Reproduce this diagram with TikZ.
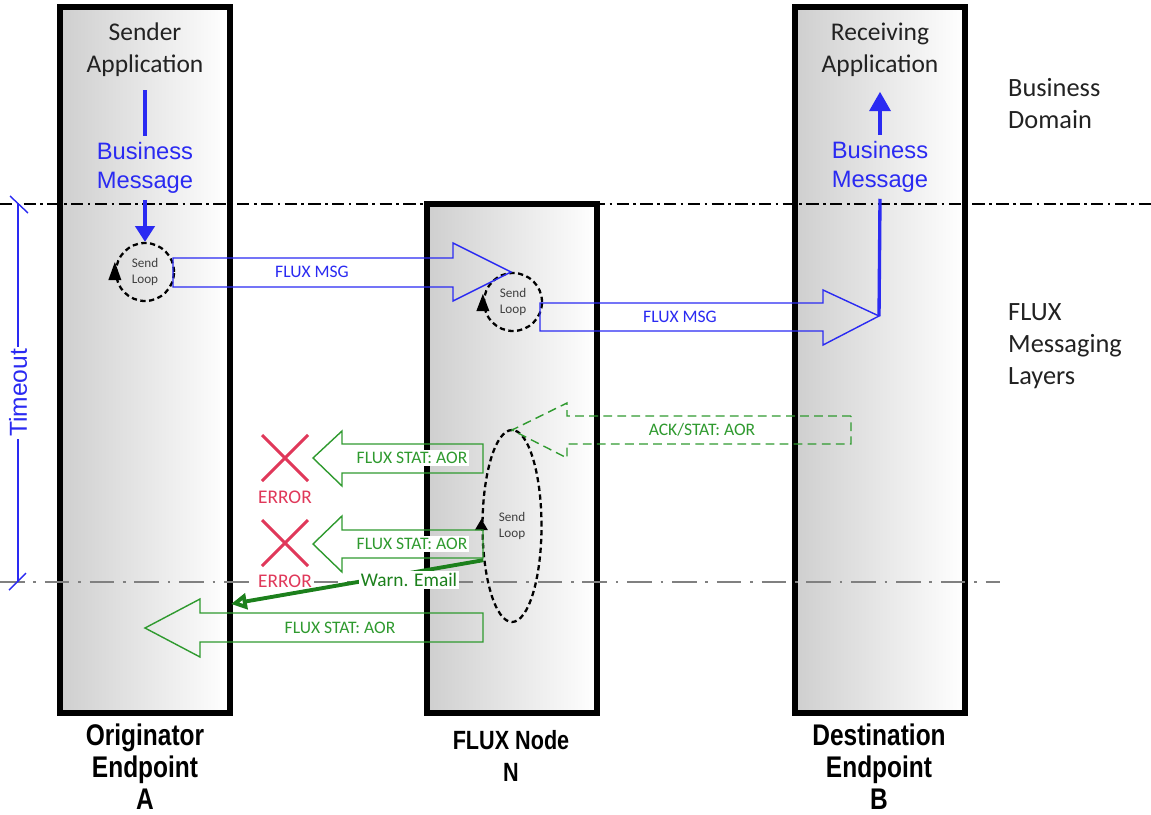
\documentclass[tikz,border=0pt]{standalone}
\usepackage{fontspec}
\setmainfont{Carlito}
\newfontfamily\arialfont{Liberation Sans}
\newfontfamily\narrowfont[FakeStretch=0.82]{Liberation Sans}
\usepackage{tikz}
\usetikzlibrary{arrows.meta,shapes.geometric}
\definecolor{azul}{HTML}{2A2AF2}
\definecolor{verde}{HTML}{2F9A2F}
\definecolor{verdeosc}{HTML}{1C801C}
\definecolor{rojo}{HTML}{E0385A}
\definecolor{tinta}{HTML}{222222}

\begin{document}
\begin{tikzpicture}[
  x=0.02cm, y=-0.02cm,
  columna/.style={draw=black, line width=3.4pt, left color=black!19, right color=white, minimum width=3.4cm, inner sep=0pt},
  bucle/.style={draw=black, line width=1.3pt, dash pattern=on 3pt off 2pt, align=center, font=\fontsize{7.5}{9}\selectfont, text=black!75, inner sep=0pt},
  msg/.style={draw=azul, line width=0.8pt},
  stat/.style={draw=verde, line width=0.8pt},
  etiq/.style={font=\fontsize{10}{12}\selectfont, fill=white, inner sep=1pt},
  titulo/.style={font=\fontsize{14.5}{18.2}\selectfont, text=tinta, align=center},
  negocio/.style={font=\arialfont\fontsize{13.5}{16.5}\selectfont, text=azul, align=center},
  capa/.style={font=\fontsize{15}{18.2}\selectfont, text=tinta, align=left, anchor=west},
  inferior/.style={font=\narrowfont\bfseries\fontsize{17}{18.2}\selectfont, align=center},
  grueso/.style={azul, line width=1.9pt},
  cruz/.style={rojo, line width=1.7pt},
  error/.style={font=\fontsize{11}{13}\selectfont, text=rojo, fill=white, inner sep=1pt}
]
  \useasboundingbox (0,0) rectangle (1151,814);

  % columnas
  \node[columna, minimum height=14.12cm] (colA) at (145,360) {};
  \node[columna, minimum height=10.18cm] (colN) at (512,458.5) {};
  \node[columna, minimum height=14.12cm] (colB) at (880,360) {};

  % limites de capa
  \draw[line width=1.1pt, dash pattern=on 7pt off 2.5pt on 1.5pt off 2.5pt] (0,204) -- (1151,204);
  \draw[black!50, line width=0.8pt, dash pattern=on 14pt off 5pt on 1.5pt off 5pt] (0,582) -- (1000,582);

  % timeout
  \draw[azul, line width=0.8pt] (18,204) -- node[rotate=90, fill=white, inner sep=1pt, text=azul, font=\arialfont\fontsize{14}{16}\selectfont] (timeout) {Timeout} (18,582);
  \draw[azul, line width=0.8pt] (10,196) -- (28,213);
  \draw[azul, line width=0.8pt] (9,590) -- (26,573);

  % dominio de negocio
  \node[titulo] (emisor) at (145,50) {Sender\\Application};
  \node[negocio] (negA) at (145,168) {Business\\Message};
  \node[titulo] (receptor) at (880,50) {Receiving\\Application};
  \node[negocio] (negB) at (880,167) {Business\\Message};
  \node[capa] (dominio) at (1002,104) {Business\\Domain};
  \node[capa] (capas) at (1002,346) {FLUX\\Messaging\\Layers};

  % bucles de envio
  \node[bucle, circle, minimum size=1.16cm] (loopA) at (145,272) {Send\\Loop};
  \node[bucle, circle, minimum size=1.16cm] (loopN) at (513,302) {Send\\Loop};
  \node[bucle, ellipse, minimum width=1.18cm, minimum height=3.84cm] (loopE) at (512,526) {Send\\Loop};
  \fill (loopA.west) ++(0,-10) -- ++(6.5,18) -- ++(-13,0) -- cycle;
  \fill (loopN.west) ++(0,-8) -- ++(6.5,17) -- ++(-13,0) -- cycle;
  \fill (loopE.west) ++(0,-7) -- ++(6.5,11) -- ++(-13,0) -- cycle;

  \draw[grueso, shorten <=4pt] (emisor.south) -- (negA.north);
  \draw[grueso, -{Triangle[length=9pt, width=11pt]}] (negA.south) -- (loopA.north);
  \draw[grueso, -{Triangle[length=11pt, width=12pt]}, shorten >=5pt] (negB.north) -- (receptor.south);

  % FLUX MSG
  \draw[msg] (173,258) -- (453,258) -- (453,243) -- (511,272) -- (453,301) -- (453,287) -- (173,287) -- cycle;
  \node[etiq, text=azul] (msg1) at (312,272) {FLUX MSG};
  \draw[msg] (540,303) -- (823,303) -- (823,290) -- (879,316) -- (823,345) -- (823,331) -- (540,331) -- cycle;
  \node[etiq, text=azul] (msg2) at (680,317) {FLUX MSG};
  \coordinate (tipB) at (879,316);
  \draw[grueso] (tipB) -- (negB.south);

  % ACK / STAT
  \draw[stat, dash pattern=on 5pt off 3pt] (851,416) -- (567,416) -- (567,403) -- (512,430) -- (567,458) -- (567,444) -- (851,444) -- cycle;
  \node[etiq, text=verde] (ack) at (702,430) {ACK/STAT: AOR};

  \draw[stat] (483,444) -- (342,444) -- (342,431) -- (313,458) -- (342,486) -- (342,473) -- (483,473) -- cycle;
  \node[etiq, text=verde] (stat1) at (412,458) {FLUX STAT: AOR};
  \draw[stat] (483,530) -- (342,530) -- (342,516) -- (313,544) -- (342,572) -- (342,558) -- (483,558) -- cycle;
  \node[etiq, text=verde] (stat2) at (412,544) {FLUX STAT: AOR};
  \draw[stat] (483,613) -- (200,613) -- (200,599) -- (145,628) -- (200,657) -- (200,642) -- (483,642) -- cycle;
  \node[etiq, text=verde] (stat3) at (340,628) {FLUX STAT: AOR};

  % errores
  \draw[cruz] (262,435) -- (308,481) (262,481) -- (308,435);
  \node[error] (err1) at (285,497) {ERROR};
  \draw[cruz] (262,520) -- (308,566) (262,566) -- (308,520);
  \node[error] (err2) at (285,581) {ERROR};

  % aviso
  \coordinate (avisoFin) at (231,604);
  \draw[verdeosc, line width=2.2pt, -{Triangle[open, length=9pt, width=9pt]}] (loopE.230) -- (avisoFin);
  \node[etiq, text=verdeosc, font=\fontsize{11}{13}\selectfont] (aviso) at (409,580) {Warn. Email};

  % etiquetas inferiores
  \node[inferior] (etA) at (145,767) {Originator\\Endpoint\\A};
  \node[inferior, font=\narrowfont\bfseries\fontsize{15}{18.5}\selectfont] (etN) at (511,756) {FLUX Node\\N};
  \node[inferior] (etB) at (879,767) {Destination\\Endpoint\\B};
\end{tikzpicture}
\end{document}
